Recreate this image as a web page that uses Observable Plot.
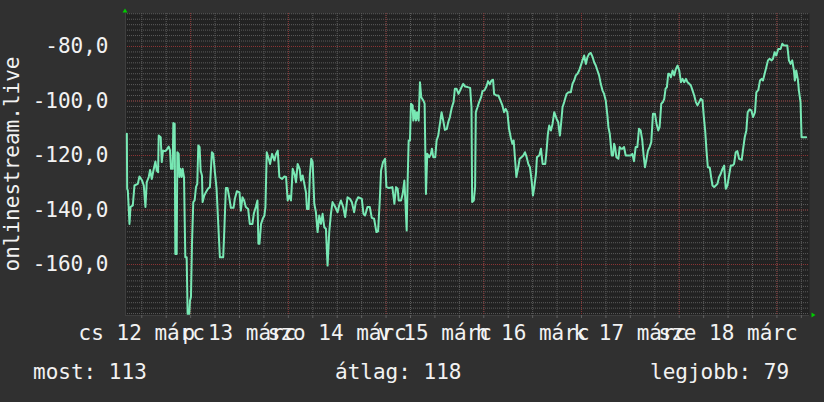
<!DOCTYPE html>
<html><head><meta charset="utf-8">
<script src="https://cdn.jsdelivr.net/npm/d3@7"></script>
<script src="https://cdn.jsdelivr.net/npm/@observablehq/plot@0.6"></script>
<style>
html,body{margin:0;padding:0;background:#303030;}
#chart{position:relative;width:824px;height:402px;overflow:hidden;font-family:"DejaVu Sans Mono",monospace;color:#f2f2f2;}
#legend{position:relative;height:52px;}
#legend span{position:absolute;top:12px;font-size:21px;line-height:21px;white-space:pre;}
</style></head><body><div id="chart"></div>
<script>
// [hours since 00:00 on 12 March, value]
const samples = [
[8.33,-112.0],[8.41,-132.2],[8.57,-132.8],[8.98,-145.1],[9.23,-138.9],[9.80,-138.3],[10.20,-131.0],[11.02,-130.4],[11.43,-127.7],[12.08,-129.2],
[12.49,-131.0],[12.90,-138.9],[13.22,-129.8],[13.71,-127.9],[14.04,-125.3],[14.45,-128.6],[14.86,-125.5],[15.35,-122.2],[15.67,-125.5],[16.00,-126.1],
[16.16,-112.7],[16.65,-113.3],[16.90,-122.4],[17.22,-118.2],[17.71,-118.4],[18.12,-117.9],[18.61,-116.7],[18.94,-118.2],[19.18,-124.9],[19.59,-124.9],
[19.75,-108.1],[20.08,-108.4],[20.24,-156.1],[20.57,-156.1],[20.73,-118.8],[21.06,-119.4],[21.22,-127.9],[21.47,-124.9],[21.80,-127.9],[22.04,-124.9],
[22.37,-127.9],[22.69,-157.3],[23.02,-157.3],[23.26,-178.1],[23.67,-178.1],[23.84,-173.2],[24.08,-172.0],[24.33,-152.4],[24.65,-137.1],[24.98,-136.5],
[25.31,-131.6],[25.63,-130.4],[25.88,-116.3],[26.20,-116.9],[26.45,-125.5],[26.78,-127.3],[26.94,-137.1],[27.35,-134.7],[27.75,-133.5],[28.25,-132.2],
[28.73,-131.6],[29.22,-118.8],[29.55,-119.4],[29.96,-126.1],[30.37,-132.2],[30.78,-145.1],[31.18,-157.3],[32.00,-157.3],[32.33,-145.1],[32.65,-131.9],
[33.06,-131.9],[33.47,-135.3],[33.88,-139.2],[34.53,-139.2],[34.86,-135.9],[35.35,-133.1],[36.00,-133.5],[36.33,-140.2],[36.73,-135.3],[37.14,-136.5],
[37.55,-138.9],[38.12,-139.6],[38.53,-145.1],[39.18,-145.1],[39.51,-141.4],[40.00,-138.9],[40.41,-136.5],[40.65,-152.4],[40.90,-152.4],
[41.30,-145.1],[41.71,-143.2],[42.12,-142.0],[42.37,-138.9],[42.69,-118.8],[43.18,-121.2],[43.51,-123.1],[44.00,-119.4],[44.57,-121.8],[44.98,-119.4],
[45.39,-118.2],[45.79,-127.9],[46.45,-128.6],[47.02,-127.7],[47.43,-127.9],[47.83,-136.5],[48.24,-134.7],[48.65,-136.5],[49.06,-124.9],[49.55,-127.0],
[49.88,-129.8],[50.28,-123.1],[50.77,-124.9],[51.10,-129.2],[51.51,-127.3],[51.92,-130.4],[52.32,-133.5],[52.57,-139.6],[52.98,-139.6],[53.30,-126.7],
[53.63,-121.2],[53.96,-122.4],[54.37,-137.7],[54.77,-140.8],[55.18,-148.1],[55.59,-142.0],[56.00,-145.1],[56.41,-141.4],[56.81,-146.3],[57.22,-146.9],
[57.63,-160.4],[58.04,-148.1],[58.45,-141.4],[58.85,-137.1],[59.51,-138.9],[60.08,-140.8],[60.49,-138.3],[60.90,-136.5],[61.47,-138.9],[61.96,-142.6],
[62.53,-135.3],[63.10,-135.9],[63.59,-137.1],[64.16,-140.8],[64.57,-137.1],[65.14,-135.3],[66.04,-135.9],[66.45,-141.4],[66.85,-142.0],[67.43,-138.9],
[68.00,-138.9],[68.49,-142.9],[69.06,-143.2],[69.63,-148.1],[70.04,-147.8],[70.45,-136.5],[70.77,-125.5],[71.26,-122.4],[71.75,-121.2],[72.08,-131.6],
[72.73,-131.9],[73.55,-131.6],
[74.04,-137.7],[74.45,-131.6],[74.85,-132.2],[75.10,-136.5],[75.67,-136.5],[76.08,-134.1],[76.49,-129.2],[76.73,-136.5],[77.06,-147.5],[77.30,-129.2],
[77.55,-114.5],[77.87,-114.5],[78.12,-101.0],[78.53,-101.6],[78.69,-107.2],[79.02,-103.5],[79.34,-107.2],[79.59,-104.1],[80.00,-107.2],[80.32,-93.1],
[80.65,-98.6],[81.14,-99.8],[81.47,-101.0],[81.79,-134.1],[82.12,-119.4],[82.61,-120.6],[83.02,-119.4],[83.26,-117.5],[83.59,-120.6],[84.08,-120.6],
[84.41,-114.5],[84.81,-112.7],[85.22,-108.4],[85.63,-104.1],[86.04,-107.2],[86.45,-110.6],[86.94,-110.2],[87.26,-107.8],[87.67,-105.9],[88.16,-102.3],
[88.57,-100.4],[88.90,-95.5],[89.30,-95.5],[89.79,-97.4],[90.36,-95.5],[90.94,-93.7],[91.43,-94.7],[92.00,-94.9],[92.65,-95.2],[92.98,-102.3],
[93.14,-137.1],[93.55,-136.5],[93.87,-131.6],[94.04,-104.1],[94.45,-102.3],[94.85,-100.4],[95.34,-98.6],[95.67,-96.4],[96.16,-96.1],[96.65,-94.7],
[97.06,-92.7],[97.47,-93.9],[97.87,-92.5],[98.28,-92.2],[98.53,-97.4],[99.10,-98.0],[99.59,-98.0],[100.08,-99.8],[100.57,-101.6],[100.98,-104.1],
[101.38,-102.9],[101.79,-104.1],[102.20,-110.2],[102.61,-113.3],[103.02,-115.7],[103.34,-114.5],[103.67,-121.2],[104.00,-127.9],[104.40,-124.9],[104.81,-121.2],
[105.30,-120.6],[105.71,-120.0],[106.12,-118.8],[106.53,-120.6],[106.94,-123.1],[107.34,-124.3],[107.75,-129.2],[108.08,-134.7],
[108.40,-131.6],[108.81,-126.7],[109.06,-120.6],[109.63,-120.0],[110.04,-117.5],[110.45,-123.1],[111.10,-123.1],[111.42,-118.2],[111.75,-112.0],[112.08,-109.0],
[112.49,-110.8],[112.89,-108.4],[113.30,-104.1],[113.87,-106.5],[114.28,-107.8],[114.69,-112.7],[115.02,-107.8],[115.34,-102.3],[115.75,-100.4],[116.32,-97.4],
[116.81,-96.8],[117.38,-96.8],[117.79,-93.7],[118.20,-92.5],[118.61,-90.6],[119.02,-90.0],[119.42,-88.8],[119.83,-87.0],[120.24,-85.1],[120.65,-83.3],
[121.06,-86.4],[121.47,-83.9],[121.87,-82.7],[122.28,-82.4],[122.69,-83.7],[123.10,-85.8],[123.51,-87.0],[123.91,-88.8],[124.32,-90.6],[124.73,-93.7],
[125.14,-96.1],[125.55,-97.4],[125.95,-99.8],[126.36,-105.3],[126.61,-109.6],[126.94,-112.0],[127.18,-115.7],[127.42,-120.0],[127.75,-120.0],[128.00,-115.7],
[128.24,-116.9],[128.57,-120.6],[129.06,-121.2],[129.38,-116.9],[129.71,-117.5],[130.04,-117.5],[130.45,-116.9],[130.85,-120.0],[131.51,-120.0],[132.08,-120.0],
[132.49,-119.4],[132.89,-122.1],[133.30,-116.9],[133.71,-116.9],[134.12,-110.2],[134.53,-110.8],[134.93,-114.5],[135.26,-120.0],[135.59,-124.3],[135.91,-121.8],
[136.32,-118.2],[136.73,-116.9],[137.14,-115.1],[137.55,-104.7],[138.04,-104.7],[138.44,-108.4],[138.85,-110.8],[139.18,-109.6],[139.59,-101.0],[140.00,-100.4],
[140.32,-99.2],[140.65,-95.5],[140.98,-94.9],[141.30,-90.0],
[141.56,-90.0],[141.96,-91.3],[142.37,-88.8],[142.78,-90.6],[143.19,-88.2],[143.60,-87.0],[144.01,-88.8],[144.41,-93.1],[144.82,-91.9],[145.23,-93.1],
[145.64,-91.9],[146.05,-93.1],[146.45,-93.7],[146.86,-94.3],[147.27,-96.1],[147.68,-98.0],[148.09,-100.4],[148.49,-101.6],[148.90,-100.4],[149.31,-99.2],
[149.72,-99.8],[150.05,-105.9],[150.37,-110.8],[150.70,-118.2],[151.03,-124.3],[151.51,-124.5],[151.84,-127.9],[152.17,-131.0],[152.58,-131.6],[152.98,-131.0],
[153.39,-130.4],[153.80,-127.9],[154.21,-126.7],[154.62,-124.9],[155.03,-123.7],[155.43,-132.2],[155.84,-131.0],[156.25,-127.3],[156.66,-123.7],[157.07,-123.7],
[157.47,-123.1],[157.88,-118.8],[158.29,-118.4],[158.70,-121.2],[159.35,-121.6],[159.76,-116.9],[160.09,-113.3],[160.49,-110.8],[160.82,-104.1],[161.31,-103.1],
[161.72,-103.5],[162.13,-105.9],[162.62,-104.1],[162.94,-96.8],[163.43,-95.9],[163.84,-92.5],[164.25,-91.9],[164.58,-92.5],[164.98,-90.0],[165.39,-87.6],
[165.80,-85.1],[166.21,-84.5],[166.70,-85.1],[167.03,-84.5],[167.43,-82.1],[167.84,-83.3],[168.33,-80.9],[168.90,-80.9],[169.31,-79.0],[169.72,-79.6],
[170.13,-79.6],[170.54,-79.6],[170.94,-85.1],[171.35,-86.4],[171.76,-85.1],[172.17,-88.8],[172.41,-92.5],[172.74,-88.8],[173.15,-92.2],[173.39,-96.1],
[173.80,-100.4],[174.05,-113.3],[174.62,-113.3],[175.19,-113.3]
];

const timeDomain = [8, 176];            // hours since 12 March 00:00
const valueDomain = [-178.7, -67.9];
const yTicks = [-80, -100, -120, -140, -160];
const yTickLabels = ["-80,0", "-100,0", "-120,0", "-140,0", "-160,0"];
const xTickHours = [12, 36, 60, 84, 108, 132, 156];
const xTickLabels = ["cs 12 márc", "p 13 márc", "szo 14 márc", "v 15 márc", "h 16 márc", "k 17 márc", "sze 18 márc"];
const yAxisTitle = "onlinestream.live";
const legendLabels = ["most", "átlag", "legjobb"];
const legendValues = [113, 118, 79];

const yMinor = d3.range(-178, -67, 2);
const xMinor = d3.range(12, 176, 6);
const xMajor = d3.range(24, 176, 24);

const FONT = '"DejaVu Sans Mono", monospace';
const plot = Plot.plot({
  width: 824, height: 350,
  marginTop: 13, marginBottom: 35, marginLeft: 125, marginRight: 15,
  style: {background: "transparent", color: "#f2f2f2", fontFamily: FONT, fontSize: "21px"},
  x: {domain: timeDomain},
  y: {domain: valueDomain},
  marks: [
    Plot.frame({fill: "#222222", stroke: null}),
    Plot.ruleY(yMinor, {stroke: "#5c5c5c", strokeDasharray: "1,1"}),
    Plot.ruleX(xMinor, {stroke: "#5c5c5c", strokeDasharray: "1,1"}),
    Plot.ruleY(yTicks, {stroke: "#8c3434", strokeDasharray: "1,1"}),
    Plot.ruleX(xMajor, {stroke: "#8c3434", strokeDasharray: "1,1"}),
    Plot.ruleX([timeDomain[0]], {stroke: "#3e3e3e"}),
    Plot.ruleY([valueDomain[0]], {stroke: "#3e3e3e"}),
    Plot.axisX({ticks: xMinor, tickSize: 3, tickFormat: () => "", stroke: "#606060", label: null}),
    Plot.axisX({ticks: xTickHours, tickSize: 0, tickPadding: 10, fontSize: 21, label: null,
      tickFormat: d => xTickLabels[xTickHours.indexOf(d)]}),
    Plot.axisY({ticks: yTicks, tickSize: 0, tickPadding: 17, fontSize: 21, label: null,
      tickFormat: d => yTickLabels[yTicks.indexOf(d)]}),
    Plot.line(samples, {x: d => d[0], y: d => d[1], stroke: "#78e8b4", strokeWidth: 2})
  ]
});

const chart = document.getElementById("chart");
chart.appendChild(plot);

// decorations: arrows at axis ends, rotated y title
const xs = plot.scale("x"), ys = plot.scale("y");
const [x0, x1] = xs.range;
const yBottom = ys.range[0], yTop = ys.range[1];
const svg = d3.select(plot);
svg.append("polygon")
  .attr("points", `${x0-2.5},${yTop-0.5} ${x0+2.5},${yTop-0.5} ${x0},${yTop-4.5}`)
  .attr("fill", "#00cc00");
svg.append("polygon")
  .attr("points", `${x1+2.5},${yBottom-2.5} ${x1+2.5},${yBottom+2.5} ${x1+6.5},${yBottom}`)
  .attr("fill", "#00cc00");
svg.append("text")
  .attr("transform", `translate(19,${(yTop + yBottom) / 2}) rotate(-90)`)
  .attr("text-anchor", "middle")
  .attr("fill", "#f2f2f2")
  .attr("font-family", FONT)
  .attr("font-size", 21)
  .text(yAxisTitle);

const legend = document.createElement("div");
legend.id = "legend";
const legendLeft = [33, 335, 650];
legendLabels.forEach((l, i) => {
  const s = document.createElement("span");
  s.style.left = legendLeft[i] + "px";
  s.textContent = `${l}: ${legendValues[i]}`;
  legend.appendChild(s);
});
chart.appendChild(legend);
</script></body></html>
